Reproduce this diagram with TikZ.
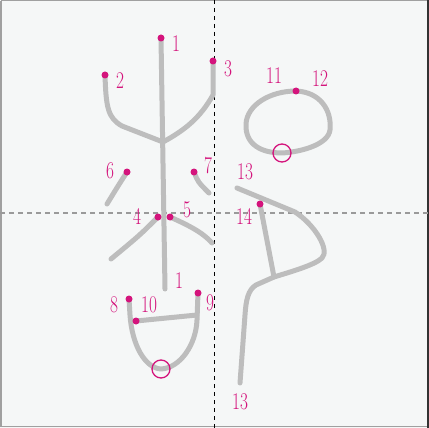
\documentclass[tikz,border=0pt]{standalone}
\usepackage{graphicx}
\definecolor{bgc}{HTML}{F5F7F7}
\definecolor{frame}{HTML}{A0A0A0}
\definecolor{strk}{HTML}{BDBDBD}
\definecolor{mag}{HTML}{D4147C}
\definecolor{guide}{HTML}{9A9A9A}
\tikzset{
  stroke/.style={draw=strk,line width=5pt,line cap=round,line join=round},
  dotmark/.style={circle,fill=mag,inner sep=0pt,minimum size=7pt},
  ring/.style={circle,draw=mag,line width=1.3pt,inner sep=0pt,minimum size=18pt},
  num/.style={text=mag,inner sep=0pt,font=\fontsize{24}{24}\selectfont},
}
\newcommand{\nm}[1]{\scalebox{0.72}[1]{#1}}
\begin{document}
\begin{tikzpicture}[x=1pt,y=-1pt]
\useasboundingbox (0,0) rectangle (429,428);
\fill[bgc] (0,0) rectangle (429,428);
\draw[frame,line width=1.5pt] (0.75,0.75) -- (428.25,0.75);
\draw[frame,line width=1.5pt] (0.75,0.75) -- (0.75,427);
\draw[frame,line width=1.5pt] (0.75,426.5) -- (428,426.5);
\draw[black!80,line width=1.5pt] (428.2,0) -- (428.2,428);
% guides
\draw[guide,line width=1.1pt,dash pattern=on 5pt off 4pt] (0,213) -- (429,213);
\draw[black,line width=0.9pt,dash pattern=on 4pt off 4pt] (214,0) -- (214,428);
% coordinates of dots
\coordinate (p1) at (161,38);
\coordinate (p2) at (105,75);
\coordinate (p3) at (213,61);
\coordinate (p6) at (127,172);
\coordinate (p7) at (194,172);
\coordinate (p4) at (158,217);
\coordinate (p5) at (170,217);
\coordinate (p8) at (129,299);
\coordinate (p9) at (198,293);
\coordinate (p10) at (136,321);
\coordinate (p12) at (296,91);
\coordinate (p14) at (260,204);
\coordinate (j) at (163,142);
% strokes
\path[stroke] (p1) -- (165,289);
\path[stroke] (p2) .. controls (106,108) and (108,118) .. (122,126) -- (j);
\path[stroke] (p3) -- (213,95) .. controls (200,118) and (185,130) .. (j);
\path[stroke] (p6) .. controls (118,186) .. (107,204);
\path[stroke] (p7) .. controls (198,182) .. (209,193);
\path[stroke] (p4) .. controls (140,235) .. (111,259);
\path[stroke] (p5) .. controls (195,228) and (205,235) .. (212,243);
\path[stroke] (p8) -- (130,315) .. controls (132,345) and (145,368) .. (161,369) .. controls (180,368) and (196,345) .. (197,320) -- (p9);
\path[stroke] (p10) -- (197,315);
\path[stroke] (p12) .. controls (320,92) and (332,110) .. (330,130) .. controls (328,145) and (300,152) .. (282,153) .. controls (262,153) and (245,145) .. (246,124) .. controls (247,105) and (270,91) .. cycle;
\path[stroke] (237,188) -- (295,212) .. controls (315,225) and (330,250) .. (322,258) .. controls (315,265) and (290,272) .. (274,277) -- (256,285) .. controls (248,290) and (246,300) .. (245,315) -- (240,383);
\path[stroke] (p14) -- (274,277);
% dots
\foreach \p in {p1,p2,p3,p4,p5,p6,p7,p8,p9,p10,p12,p14}
  \node[dotmark] at (\p) {};
% rings
\node[ring] (r1) at (161,369) {};
\node[ring] (r2) at (282,153) {};
% labels
\node[num] (l1) at (176,44) {\nm{1}};
\node[num] (l2) at (120,81) {\nm{2}};
\node[num] (l3) at (228,69) {\nm{3}};
\node[num] (l6) at (110,171) {\nm{6}};
\node[num] (l7) at (208,166) {\nm{7}};
\node[num] (l4) at (137,216) {\nm{4}};
\node[num] (l5) at (187,210) {\nm{5}};
\node[num] (l1b) at (179,281) {\nm{1}};
\node[num] (l8) at (114,305) {\nm{8}};
\node[num] (l10) at (149,305) {\nm{10}};
\node[num] (l9) at (210,303) {\nm{9}};
\node[num] (l11) at (274,76) {\nm{11}};
\node[num] (l12) at (320,79) {\nm{12}};
\node[num] (l13) at (245,172) {\nm{13}};
\node[num] (l14) at (244,216) {\nm{14}};
\node[num] (l13b) at (240,402) {\nm{13}};
\end{tikzpicture}
\end{document}
